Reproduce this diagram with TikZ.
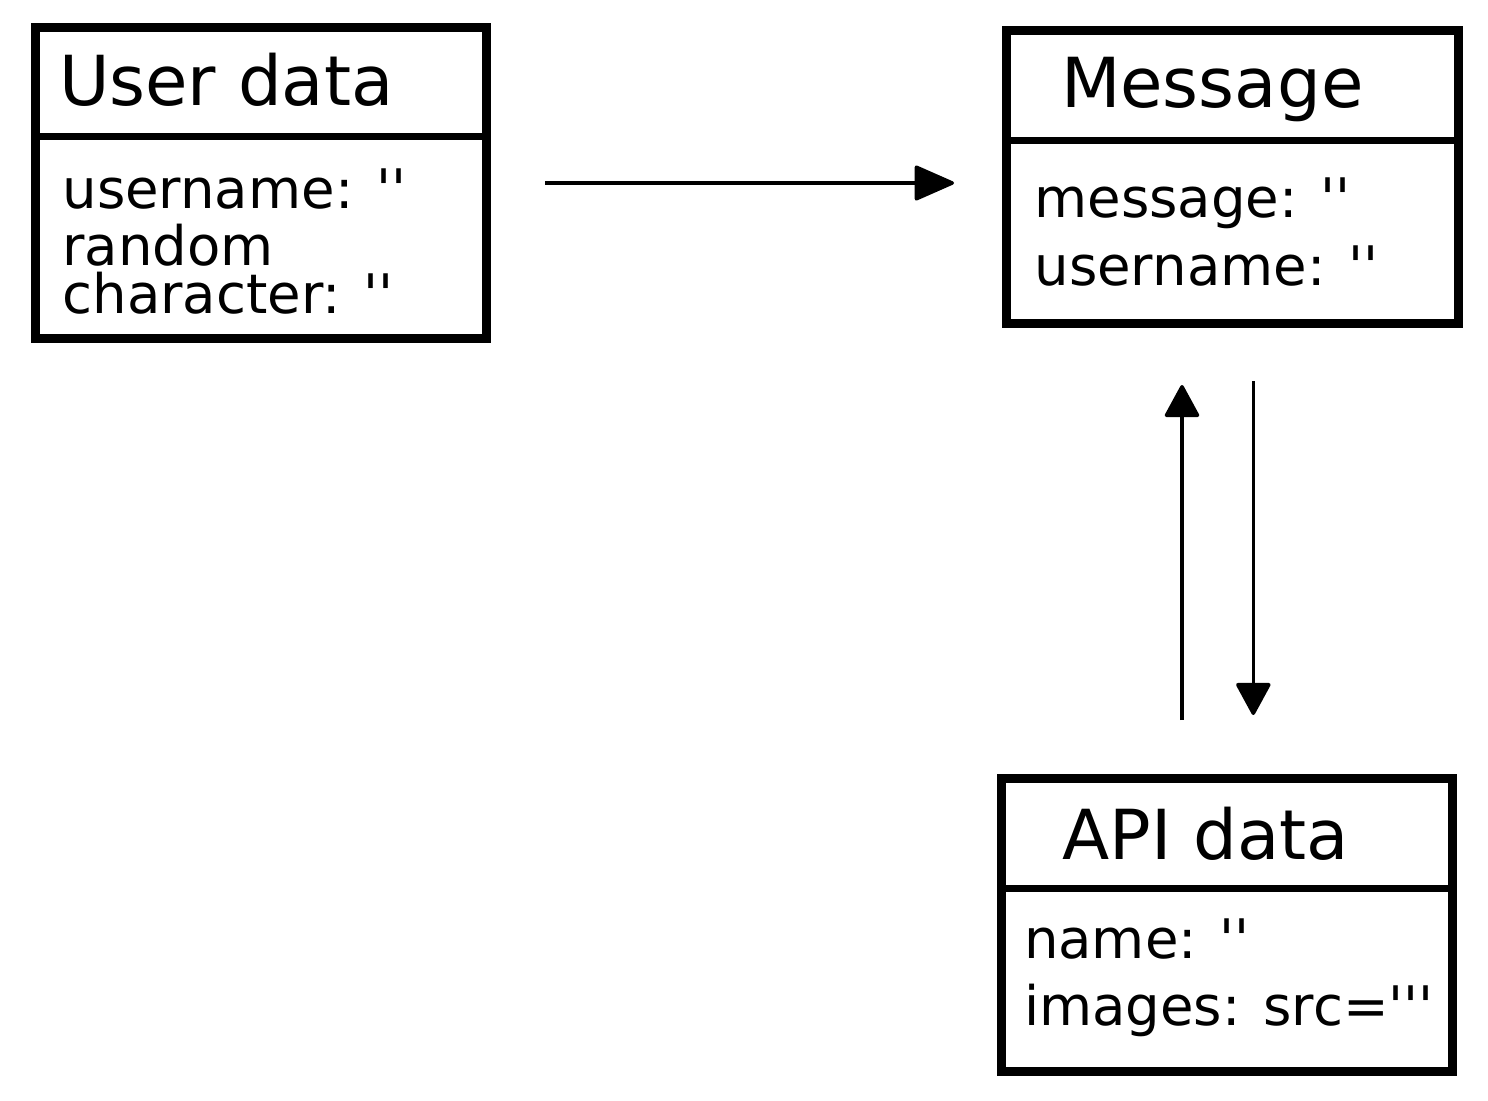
\documentclass[tikz,border=0pt]{standalone}
\usepackage{fontspec}
\newfontfamily\dv{DejaVu Sans}
\usetikzlibrary{arrows.meta}
\tikzset{
  box/.style={draw=black, line width=9pt, rectangle, inner sep=0pt, outer sep=0pt, anchor=north west},
  divider/.style={draw=black, line width=7pt},
  titletext/.style={anchor=base west, inner sep=0pt, outer sep=0pt, font=\dv\fontsize{69}{80}\selectfont},
  bodytext/.style={anchor=base west, inner sep=0pt, outer sep=0pt, font=\dv\fontsize{54.5}{66}\selectfont},
  conn/.style={draw=black, line width=3.5pt},
  hhead/.style={-{Triangle[length=42pt,width=36pt,round]}},
  vhead/.style={-{Triangle[length=34pt,width=36pt,round]}}
}
\begin{document}
\begin{tikzpicture}[x=1pt,y=-1pt]
\useasboundingbox (0,0) rectangle (1488,1100);

% User data box
\node[box, minimum width=451pt, minimum height=311pt] (user) at (35,27) {};
\draw[divider] (35,136.5) coordinate (userdl) -- (486,136.5) coordinate (userdr);
\node[titletext] (usertitle) at (59,105) {User data};
\node[bodytext] (userl1) at (62.5,208) {username: ''};
\node[bodytext] (userl2) at (62.5,265) {random};
\node[bodytext] (userl3) at (62.5,313) {character: ''};

% Message box
\node[box, minimum width=452pt, minimum height=293pt] (msg) at (1006,30.5) {};
\draw[divider] (1006,140.5) coordinate (msgdl) -- (1458,140.5) coordinate (msgdr);
\node[titletext] (msgtitle) at (1061,107) {Message};
\node[bodytext] (msgl1) at (1034.5,217) {message: ''};
\node[bodytext] (msgl2) at (1034.5,285) {username: ''};

% API data box
\node[box, minimum width=451pt, minimum height=293pt] (api) at (1001,778) {};
\draw[divider] (1001,888) coordinate (apidl) -- (1452,888) coordinate (apidr);
\node[titletext] (apititle) at (1062.5,859) {API data};
\node[bodytext] (apil1) at (1024,958) {name: ''};
\node[bodytext] (apil2) at (1024,1025) {images: src='''};

% connectors
\coordinate (h1) at (545,183);
\coordinate (h2) at (954,183);
\coordinate (u1) at (1182,720);
\coordinate (u2) at (1182,385);
\coordinate (d1) at (1253.3,381);
\coordinate (d2) at (1253.3,715);
\draw[conn, hhead] (h1) -- (h2);
\draw[conn, vhead] (u1) -- (u2);
\draw[conn, vhead] (d1) -- (d2);
\end{tikzpicture}
\end{document}
